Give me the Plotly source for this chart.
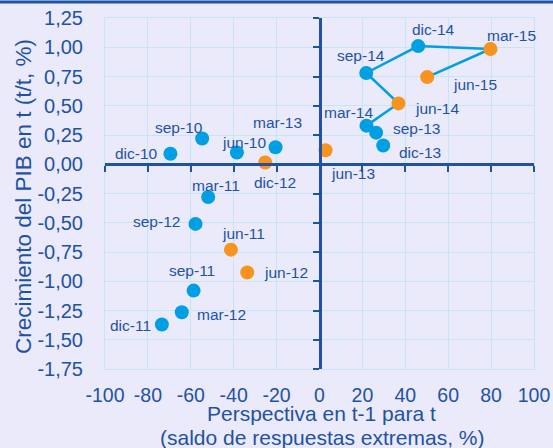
import plotly.graph_objects as go

# ---- data ----
blue_labels = ["jun-10", "sep-10", "dic-10", "mar-11", "sep-11", "dic-11", "mar-12",
               "sep-12", "mar-13", "sep-13", "dic-13", "mar-14", "sep-14", "dic-14"]
blue_x = [-38.5, -54.7, -69.5, -51.9, -58.7, -73.5, -64.2,
          -57.8, -20.5, 26.4, 29.7, 21.9, 21.8, 46.0]
blue_y = [0.10, 0.22, 0.09, -0.28, -1.08, -1.37, -1.265,
          -0.51, 0.145, 0.27, 0.16, 0.33, 0.78, 1.01]

orange_labels = ["jun-11", "jun-12", "dic-12", "jun-13", "jun-14", "mar-15", "jun-15"]
orange_x = [-41.3, -33.7, -25.3, 2.8, 36.8, 79.7, 50.2]
orange_y = [-0.73, -0.925, 0.015, 0.12, 0.52, 0.985, 0.745]

path_labels = ["mar-14", "jun-14", "sep-14", "dic-14", "mar-15", "jun-15"]

x_ticks = [-100, -80, -60, -40, -20, 0, 20, 40, 60, 80, 100]
x_ticktext = ["-100", "-80", "-60", "-40", "-20", "0", "20", "40", "60", "80", "100"]
y_ticks = [1.25, 1.0, 0.75, 0.5, 0.25, 0.0, -0.25, -0.5, -0.75, -1.0, -1.25, -1.5, -1.75]
y_ticktext = ["1,25", "1,00", "0,75", "0,50", "0,25", "0,00", "-0,25", "-0,50",
              "-0,75", "-1,00", "-1,25", "-1,50", "-1,75"]

x_title_lines = ["Perspectiva en t-1 para t", "(saldo de respuestas extremas, %)"]
y_title = "Crecimiento del PIB en t (t/t, %)"

# ---- label placement (styles: anchor, x/y pixel shift) ----
label_pos = {
    "dic-10": ("right", -10, 0), "sep-10": ("center", -23, 11), "jun-10": ("center", 7, 10),
    "mar-13": ("center", 2, 25), "dic-12": ("center", 10, -20), "mar-11": ("center", 8, 12),
    "sep-12": ("right", -14, 2), "jun-11": ("center", 13, 16), "jun-12": ("left", 15, 0),
    "sep-11": ("center", -2, 20), "mar-12": ("left", 13, -2), "dic-11": ("right", -9, -1),
    "dic-14": ("center", 15, 17), "mar-15": ("center", 21, 14), "sep-14": ("center", -5, 17),
    "jun-15": ("left", 24, -7), "jun-14": ("left", 15, -5), "mar-14": ("center", -18, 13),
    "sep-13": ("left", 15, 4), "dic-13": ("left", 14, -7), "jun-13": ("center", 27, -23),
}

BLUE = "#009FE3"
ORANGE = "#F7931E"
DARK = "#1F52A3"
GRID = "#C6E6F8"
BG = "#EAEAFA"
FONT = "Liberation Sans, Arial, sans-serif"

all_pts = {}
for l, x, y in zip(blue_labels, blue_x, blue_y):
    all_pts[l] = (x, y)
for l, x, y in zip(orange_labels, orange_x, orange_y):
    all_pts[l] = (x, y)

fig = go.Figure()
fig.add_trace(go.Scatter(
    x=[all_pts[l][0] for l in path_labels], y=[all_pts[l][1] for l in path_labels],
    mode="lines", line=dict(color=BLUE, width=2.5), showlegend=False, hoverinfo="skip"))
fig.add_trace(go.Scatter(x=blue_x, y=blue_y, mode="markers", text=blue_labels,
                         marker=dict(color=BLUE, size=14), showlegend=False))
fig.add_trace(go.Scatter(x=orange_x, y=orange_y, mode="markers", text=orange_labels,
                         marker=dict(color=ORANGE, size=14), showlegend=False))
# dummy traces to activate the zero-crossing axes
fig.add_trace(go.Scatter(x=[None], y=[None], xaxis="x2", yaxis="y", showlegend=False, hoverinfo="skip"))
fig.add_trace(go.Scatter(x=[None], y=[None], xaxis="x", yaxis="y2", showlegend=False, hoverinfo="skip"))

for l, (x, y) in all_pts.items():
    anc, dx, dy = label_pos[l]
    fig.add_annotation(x=x, y=y, xref="x", yref="y", text=l, showarrow=False,
                       xanchor=anc, yanchor="middle", xshift=dx, yshift=dy,
                       font=dict(family=FONT, size=15.5, color=DARK))

xr = [-100, 100]
yr = [-1.75, 1.25]
fig.update_layout(
    width=553, height=448,
    margin=dict(l=105, r=19, t=18, b=79, autoexpand=False),
    paper_bgcolor=BG, plot_bgcolor=BG,
    font=dict(family=FONT, color=DARK),
    xaxis=dict(range=xr, tickvals=x_ticks, ticktext=x_ticktext, showgrid=True, automargin=False,
               gridcolor=GRID, gridwidth=1, zeroline=False, showline=True, linecolor=GRID,
               linewidth=1, mirror=True, ticks="", tickfont=dict(size=19.5, color=DARK),
               ticklabelstandoff=9),
    yaxis=dict(range=yr, tickvals=y_ticks, ticktext=y_ticktext, showgrid=True, automargin=False,
               gridcolor=GRID, gridwidth=1, zeroline=False, showline=True, linecolor=GRID,
               linewidth=1, mirror=True, ticks="", tickfont=dict(size=20, color=DARK),
               ticklabelstandoff=17),
    xaxis2=dict(range=xr, overlaying="x", anchor="free", automargin=False,
                position=(0 - yr[0]) / (yr[1] - yr[0]), side="bottom",
                tickvals=x_ticks, showticklabels=False, showgrid=False, zeroline=False,
                showline=True, linecolor=DARK, linewidth=2.5,
                ticks="outside", ticklen=6, tickwidth=2, tickcolor=DARK),
    yaxis2=dict(range=yr, overlaying="y", anchor="free", automargin=False,
                position=(0 - xr[0]) / (xr[1] - xr[0]), side="left",
                tickvals=y_ticks, showticklabels=False, showgrid=False, zeroline=False,
                showline=True, linecolor=DARK, linewidth=2.5,
                ticks="outside", ticklen=6, tickwidth=2, tickcolor=DARK),
)

# axis titles
for line_text, shift in zip(x_title_lines, [-44, -68]):
    fig.add_annotation(x=0.505, y=0, xref="paper", yref="paper", xanchor="center",
                       yanchor="middle", yshift=shift, text=line_text, showarrow=False,
                       font=dict(size=21, color=DARK, family=FONT))
fig.add_annotation(x=-0.191, y=0.49, xref="paper", yref="paper", xanchor="center",
                   yanchor="middle", textangle=-90, text=y_title, showarrow=False,
                   font=dict(size=22.5, color=DARK, family=FONT))
# top border
fig.add_shape(type="line", xref="paper", yref="paper", x0=-0.26, x1=1.06, y0=1.0456, y1=1.0456,
              line=dict(color=DARK, width=3))

fig.write_html("out.html", config={"displayModeBar": False},
               post_script="document.body.style.margin='0';document.body.style.overflow='hidden';")
